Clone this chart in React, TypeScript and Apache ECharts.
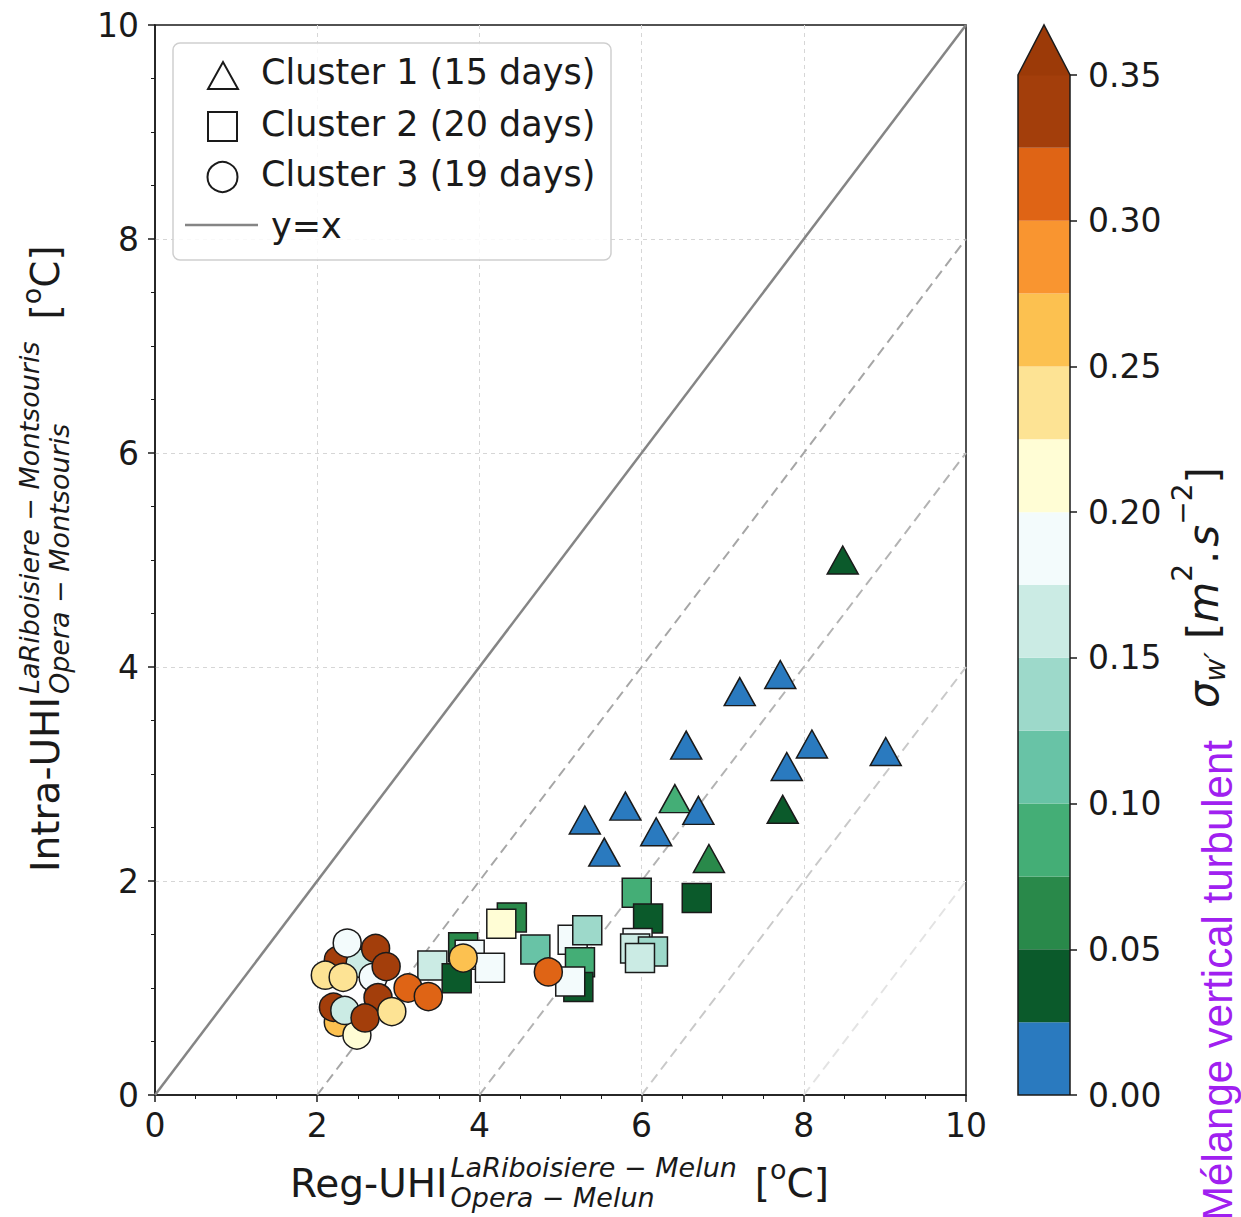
import React, { useEffect, useRef } from "react";
import * as echarts from "echarts";

// ---------- data ----------
// Cluster 1 (triangles)
const triX = [8.48, 7.21, 7.71, 6.55, 8.1, 9.01, 7.79, 5.3, 5.8, 6.41, 6.7, 6.18, 5.54, 7.74, 6.83];
const triY = [5.0, 3.77, 3.93, 3.27, 3.28, 3.21, 3.07, 2.57, 2.7, 2.77, 2.66, 2.46, 2.27, 2.67, 2.21];
const triS = [0.04, 0.01, 0.01, 0.01, 0.01, 0.01, 0.01, 0.01, 0.01, 0.09, 0.01, 0.01, 0.01, 0.04, 0.06];
// Cluster 2 (squares)
const sqX = [5.94, 6.08, 6.68, 4.4, 4.27, 5.15, 5.33, 4.69, 3.8, 3.88, 3.42, 4.13, 3.72, 5.24, 5.22, 5.12, 5.95, 5.92, 6.14, 5.98];
const sqY = [1.89, 1.65, 1.84, 1.66, 1.6, 1.45, 1.54, 1.36, 1.38, 1.31, 1.21, 1.19, 1.09, 1.24, 1.01, 1.06, 1.42, 1.37, 1.34, 1.28];
const sqS = [0.085, 0.04, 0.04, 0.06, 0.21, 0.19, 0.14, 0.115, 0.06, 0.19, 0.16, 0.19, 0.04, 0.085, 0.04, 0.19, 0.19, 0.16, 0.14, 0.16];
// Cluster 3 (circles)
const ciX = [2.26, 2.53, 2.37, 2.69, 2.72, 2.85, 2.1, 2.32, 2.26, 2.49, 2.2, 2.34, 2.75, 2.59, 2.92, 3.12, 3.37, 3.8, 4.85];
const ciY = [1.26, 1.23, 1.42, 1.1, 1.37, 1.2, 1.12, 1.1, 0.68, 0.56, 0.82, 0.79, 0.91, 0.72, 0.78, 1.0, 0.92, 1.28, 1.15];
const ciS = [0.33, 0.15, 0.19, 0.19, 0.34, 0.34, 0.24, 0.235, 0.27, 0.21, 0.34, 0.15, 0.33, 0.34, 0.24, 0.31, 0.31, 0.26, 0.31];

// colour scale (sigma_w')
const binEdges = [0, 0.025, 0.05, 0.075, 0.1, 0.125, 0.15, 0.175, 0.2, 0.225, 0.25, 0.275, 0.3, 0.325, 0.35];
const binColors = [
  "#2a7abf", "#0b5a2b", "#29894a", "#44ae76", "#68c3a6", "#9dd9ca", "#cbebe4",
  "#f3fbfc", "#fffdd5", "#fde394", "#fcc150", "#f99530", "#df6415", "#a33e0b",
];
const overColor = "#9c3a08";

// reference lines y = x - offset
const refOffsets = [0, 2, 4, 6, 8];
const refColors = ["#858585", "#a6a6a6", "#b3b3b3", "#c9c9c9", "#e3e3e3"];

const legendLabels = ["Cluster 1 (15 days)", "Cluster 2 (20 days)", "Cluster 3 (19 days)", "y=x"];

const FONT = '"DejaVu Sans"';

// ---------- text helpers ----------
let _ctx: CanvasRenderingContext2D | null = null;
function measure(t: string, font: string): number {
  if (!_ctx) _ctx = document.createElement("canvas").getContext("2d");
  _ctx!.font = font;
  return _ctx!.measureText(t).width;
}
type Part = { t: string; size: number; italic?: boolean; dy: number };
type Piece = { parts: Part[]; gap?: number };
function buildLabel(pieces: Piece[], color: string) {
  const els: any[] = [];
  let x = 0;
  for (const p of pieces) {
    let w = 0;
    for (const part of p.parts) {
      const font = `${part.italic ? "italic " : ""}${part.size}px ${FONT}`;
      const pw = measure(part.t, font);
      w = Math.max(w, pw);
      els.push({
        type: "text",
        x,
        y: part.dy,
        silent: true,
        style: {
          text: part.t,
          font,
          fill: color,
          textAlign: "left",
          textVerticalAlign: "middle",
          align: "left",
          verticalAlign: "middle",
        },
      });
    }
    x += w + (p.gap || 0);
  }
  return els;
}

export default function App() {
  const ref = useRef<HTMLDivElement>(null);
  useEffect(() => {
    if (!ref.current) return;
    const chart = echarts.init(ref.current, undefined, { renderer: "svg" });

    const tick = { show: true, length: 7, lineStyle: { color: "#1a1a1a", width: 1.5 } };
    const minor = { show: true, splitNumber: 4, length: 4, lineStyle: { color: "#1a1a1a", width: 1 } };
    const split = {
      show: true,
      showMinLine: false,
      showMaxLine: false,
      lineStyle: { color: "#d6d6d6", type: [4, 4], width: 1 },
    };
    const axLine = { show: true, onZero: false, lineStyle: { color: "#1a1a1a", width: 1.5 } };

    const refSeries = refOffsets.map((o, i) => ({
      type: "line",
      xAxisIndex: 0,
      yAxisIndex: 0,
      data: [
        [o, 0],
        [10, 10 - o],
      ],
      symbol: "none",
      silent: true,
      z: 2,
      lineStyle: { color: refColors[i], width: o === 0 ? 2.5 : 2, type: o === 0 ? "solid" : [10, 6] },
    }));

    const marker = { borderColor: "#1a1a1a", borderWidth: 1.5, opacity: 1 };
    const scatters = [
      { symbol: "triangle", size: [31, 28], xs: triX, ys: triY, ss: triS },
      { symbol: "rect", size: 29, xs: sqX, ys: sqY, ss: sqS },
      { symbol: "circle", size: 28, xs: ciX, ys: ciY, ss: ciS },
    ].map((s) => ({
      type: "scatter",
      xAxisIndex: 0,
      yAxisIndex: 0,
      symbol: s.symbol,
      symbolSize: s.size,
      itemStyle: marker,
      z: 3,
      data: s.xs.map((x, i) => [x, s.ys[i], s.ss[i]]),
    }));

    const cbSeries = binColors.map((c, i) => ({
      type: "bar",
      xAxisIndex: 1,
      yAxisIndex: 1,
      stack: "cb",
      barWidth: "100%",
      silent: true,
      itemStyle: { color: c },
      data: [binEdges[i + 1] - binEdges[i]],
    }));

    const pieces = binColors.map((c, i) => ({ gte: binEdges[i], lt: binEdges[i + 1], color: c }));
    pieces.push({ gte: binEdges[binEdges.length - 1], lt: 10, color: overColor } as any);

    // axis titles
    const xLabel = buildLabel(
      [
        { parts: [{ t: "Reg-UHI", size: 39, dy: 0 }], gap: 3 },
        {
          parts: [
            { t: "LaRiboisiere \u2212 Melun", size: 27, italic: true, dy: -16 },
            { t: "Opera \u2212 Melun", size: 27, italic: true, dy: 14 },
          ],
          gap: 18,
        },
        { parts: [{ t: "[", size: 39, dy: 0 }] },
        { parts: [{ t: "o", size: 27, dy: -14 }] },
        { parts: [{ t: "C]", size: 39, dy: 0 }] },
      ],
      "#1a1a1a"
    );
    const yLabel = buildLabel(
      [
        { parts: [{ t: "Intra-UHI", size: 39, dy: 0 }], gap: 3 },
        {
          parts: [
            { t: "LaRiboisiere \u2212 Montsouris", size: 27, italic: true, dy: -16 },
            { t: "Opera \u2212 Montsouris", size: 27, italic: true, dy: 14 },
          ],
          gap: 22,
        },
        { parts: [{ t: "[", size: 39, dy: 0 }] },
        { parts: [{ t: "o", size: 27, dy: -14 }] },
        { parts: [{ t: "C]", size: 39, dy: 0 }] },
      ],
      "#1a1a1a"
    );
    const sLabel = buildLabel(
      [
        { parts: [{ t: "\u03c3", size: 42, italic: true, dy: 0 }] },
        { parts: [{ t: "w\u2032", size: 28, italic: true, dy: 12 }], gap: 13 },
        { parts: [{ t: "[", size: 42, dy: 0 }] },
        { parts: [{ t: "m", size: 42, italic: true, dy: 0 }] },
        { parts: [{ t: "2", size: 28, dy: -21 }] },
        { parts: [{ t: ".", size: 42, dy: 0 }], gap: 4 },
        { parts: [{ t: "s", size: 42, italic: true, dy: 0 }] },
        { parts: [{ t: "\u22122", size: 28, dy: -21 }] },
        { parts: [{ t: "]", size: 42, dy: 0 }] },
      ],
      "#1a1a1a"
    );

    const legendText = (t: string, x: number, y: number) => ({
      type: "text",
      x,
      y,
      silent: true,
      style: {
        text: t,
        font: `35px ${FONT}`,
        fill: "#1a1a1a",
        textAlign: "left",
        textVerticalAlign: "middle",
        align: "left",
        verticalAlign: "middle",
      },
    });

    const graphic: any[] = [
      // legend box
      {
        type: "rect",
        shape: { x: 173, y: 43, width: 438, height: 217, r: 7 },
        style: { fill: "rgba(255,255,255,0.85)", stroke: "#cfcfcf", lineWidth: 1.5 },
        z: 10,
        silent: true,
      },
      {
        type: "polygon",
        shape: { points: [[208, 89], [238, 89], [223, 62]] },
        style: { fill: "none", stroke: "#1a1a1a", lineWidth: 2 },
        z: 11,
      },
      {
        type: "rect",
        shape: { x: 208, y: 112, width: 29, height: 29 },
        style: { fill: "none", stroke: "#1a1a1a", lineWidth: 2 },
        z: 11,
      },
      {
        type: "circle",
        shape: { cx: 222.5, cy: 177, r: 15 },
        style: { fill: "none", stroke: "#1a1a1a", lineWidth: 2 },
        z: 11,
      },
      {
        type: "line",
        shape: { x1: 185, y1: 225, x2: 258, y2: 225 },
        style: { stroke: refColors[0], lineWidth: 2.5 },
        z: 11,
      },
      { ...legendText(legendLabels[0], 261, 72), z: 11 },
      { ...legendText(legendLabels[1], 261, 124), z: 11 },
      { ...legendText(legendLabels[2], 261, 174), z: 11 },
      { ...legendText(legendLabels[3], 271, 226), z: 11 },
      // colorbar extension arrow & outline
      {
        type: "polygon",
        shape: { points: [[1018, 75.5], [1044, 25], [1070, 75.5]] },
        style: { fill: overColor, stroke: "none" },
        z: 10,
      },
      {
        type: "polyline",
        shape: { points: [[1070, 1095], [1018, 1095], [1018, 75], [1044, 25], [1070, 75], [1070, 1095]] },
        style: { fill: "none", stroke: "#1a1a1a", lineWidth: 1.5 },
        z: 11,
      },
      // axis titles
      { type: "group", x: 290, y: 1183, children: xLabel, silent: true },
      { type: "group", x: 45, y: 872, rotation: Math.PI / 2, children: yLabel, silent: true },
      { type: "group", x: 1203, y: 708, rotation: Math.PI / 2, children: sLabel, silent: true },
      {
        type: "group",
        x: 1217,
        y: 740,
        rotation: Math.PI / 2,
        silent: true,
        children: [
          {
            type: "text",
            x: 0,
            y: 0,
            style: {
              text: "M\u00e9lange vertical turbulent",
              font: '42px "Liberation Sans"',
              fill: "#a020f0",
              textAlign: "right",
              textVerticalAlign: "middle",
              align: "right",
              verticalAlign: "middle",
            },
          },
        ],
      },
    ];

    chart.setOption({
      animation: false,
      backgroundColor: "#ffffff",
      textStyle: { fontFamily: "DejaVu Sans" },
      grid: [
        { left: 155, top: 25, right: 275, bottom: 122, show: true, borderColor: "#1a1a1a", borderWidth: 1.5, backgroundColor: "transparent" },
        { left: 1018, right: 171, top: 75, bottom: 122 },
      ],
      xAxis: [
        {
          gridIndex: 0,
          type: "value",
          min: 0,
          max: 10,
          interval: 2,
          axisLine: axLine,
          axisTick: tick,
          minorTick: minor,
          splitLine: split,
          axisLabel: { fontSize: 33, color: "#1a1a1a", margin: 14, fontFamily: "DejaVu Sans" },
        },
        { gridIndex: 1, type: "category", data: ["cb"], show: false },
      ],
      yAxis: [
        {
          gridIndex: 0,
          type: "value",
          min: 0,
          max: 10,
          interval: 2,
          axisLine: axLine,
          axisTick: tick,
          minorTick: minor,
          splitLine: split,
          axisLabel: { fontSize: 33, color: "#1a1a1a", margin: 16, fontFamily: "DejaVu Sans" },
        },
        {
          gridIndex: 1,
          type: "value",
          min: 0,
          max: 0.35,
          interval: 0.05,
          position: "right",
          axisLine: { show: false },
          axisTick: tick,
          splitLine: { show: false },
          axisLabel: {
            fontSize: 33,
            color: "#1a1a1a",
            margin: 18,
            fontFamily: "DejaVu Sans",
            formatter: (v: number) => v.toFixed(2),
          },
        },
      ],
      visualMap: {
        type: "piecewise",
        show: false,
        dimension: 2,
        seriesIndex: [5, 6, 7],
        pieces,
      },
      series: [...refSeries, ...scatters, ...cbSeries],
      graphic,
    });
    return () => chart.dispose();
  }, []);
  return (
    <div
      ref={ref}
      style={{ position: "absolute", left: 0, top: 0, width: 1241, height: 1217, background: "#fff" }}
    />
  );
}
